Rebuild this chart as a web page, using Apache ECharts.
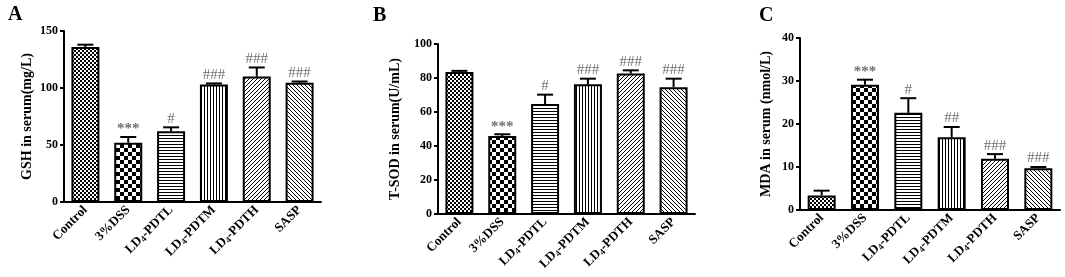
<!DOCTYPE html>
<html>
<head>
<meta charset="utf-8">
<script src="https://cdn.jsdelivr.net/npm/echarts@6/dist/echarts.min.js"></script>
<style>
html,body{margin:0;padding:0;background:#fff;}
#chart{width:1065px;height:277px;}
</style>
</head>
<body>
<div id="chart"></div>
<script>
// ---------- data ----------
const categories = ['Control', '3%DSS', 'LD4-PDTL', 'LD4-PDTM', 'LD4-PDTH', 'SASP'];

const gshMean = [136, 52, 62, 103, 110, 104.5];
const gshErr  = [2, 5, 3.5, 1, 8, 1.2];
const gshSig  = ['', '***', '#', '###', '###', '###'];

const sodMean = [83.6, 45.9, 64.7, 76.3, 82.6, 74.6];
const sodErr  = [0.6, 1, 5.5, 3.3, 1.9, 5];
const sodSig  = ['', '***', '#', '###', '###', '###'];

const mdaMean = [3.4, 29.1, 22.6, 16.9, 11.9, 9.7];
const mdaErr  = [1.1, 1.2, 3.4, 2.4, 1.1, 0.3];
const mdaSig  = ['', '***', '#', '##', '###', '###'];

const panelLetters = ['A', 'B', 'C'];
const yNames = ['GSH in serum(mg/L)', 'T-SOD in serum(U/mL)', 'MDA in serum (nmol/L)'];
const yMax = [150, 100, 40];
const yInterval = [50, 20, 10];

// ---------- patterns ----------
function makeTile(w, h, draw) {
  const c = document.createElement('canvas');
  c.width = w; c.height = h;
  const ctx = c.getContext('2d');
  ctx.fillStyle = '#fff'; ctx.fillRect(0, 0, w, h);
  ctx.fillStyle = '#000'; ctx.strokeStyle = '#000';
  draw(ctx, w, h);
  return { image: c, repeat: 'repeat' };
}
function checker(s) {
  return makeTile(2 * s, 2 * s, (ctx) => { ctx.fillRect(0, 0, s, s); ctx.fillRect(s, s, s, s); });
}
function hLines(p) { return makeTile(p, p, (ctx) => ctx.fillRect(0, 0, p, 1)); }
function vLines(p) { return makeTile(p, p, (ctx) => ctx.fillRect(0, 0, 1, p)); }
function diag(p, forward) {
  return makeTile(p, p, (ctx, w) => {
    ctx.lineWidth = 1;
    ctx.beginPath();
    for (let k = -1; k <= 1; k++) {
      if (forward) { ctx.moveTo(k * w - 1, w + 1); ctx.lineTo(k * w + w + 1, -1); }
      else { ctx.moveTo(k * w - 1, -1); ctx.lineTo(k * w + w + 1, w + 1); }
    }
    ctx.stroke();
  });
}
const fills = [checker(2), checker(4), hLines(3), vLines(3), diag(4, true), diag(4, false)];

// ---------- layout ----------
const grids = [
  { left: 64, top: 31, width: 257, height: 171 },
  { left: 438, top: 44, width: 257, height: 170 },
  { left: 800, top: 38, width: 260, height: 172 }
];
const nameGaps = [30, 36, 27];
const letterPos = [[8, 5], [373, 6], [759, 6]];
const FONT = '"Liberation Serif", "Times New Roman", serif';

const panels = [
  { mean: gshMean, err: gshErr, sig: gshSig },
  { mean: sodMean, err: sodErr, sig: sodSig },
  { mean: mdaMean, err: mdaErr, sig: mdaSig }
];

const xAxes = [], yAxes = [], series = [], graphics = [];
panels.forEach((p, i) => {
  xAxes.push({
    type: 'category', gridIndex: i, data: categories,
    axisLine: { lineStyle: { color: '#000', width: 2 } },
    axisTick: { alignWithLabel: true, length: 4, lineStyle: { color: '#000', width: 2 } },
    axisLabel: {
      rotate: 45, interval: 0, margin: 6, color: '#000',
      fontFamily: FONT, fontWeight: 'bold', fontSize: 13,
      formatter: (v) => v.replace(/^LD4/, 'LD{s|4}'),
      rich: { s: { fontFamily: FONT, fontWeight: 'bold', fontSize: 9, verticalAlign: 'bottom', padding: [6, 0, 0, 0] } }
    }
  });
  yAxes.push({
    type: 'value', gridIndex: i, min: 0, max: yMax[i], interval: yInterval[i],
    name: yNames[i], nameLocation: 'middle', nameGap: nameGaps[i],
    nameTextStyle: { fontFamily: FONT, fontWeight: 'bold', fontSize: 14, color: '#000' },
    axisLine: { show: true, lineStyle: { color: '#000', width: 2 } },
    axisTick: { show: true, length: 4, lineStyle: { color: '#000', width: 2 } },
    splitLine: { show: false },
    axisLabel: { color: '#000', fontFamily: FONT, fontWeight: 'bold', fontSize: 12, margin: 6 }
  });
  series.push({
    type: 'bar', xAxisIndex: i, yAxisIndex: i, barWidth: 28,
    data: p.mean.map((v, k) => ({ value: v, itemStyle: { color: fills[k], borderColor: '#000', borderWidth: 2 } })),
    silent: true
  });
  series.push({
    type: 'custom', xAxisIndex: i, yAxisIndex: i, z: 5, silent: true,
    data: p.mean.map((v, k) => [k, v, p.err[k], p.sig[k]]),
    renderItem: (params, api) => {
      const k = api.value(0), m = api.value(1), e = api.value(2);
      const s = p.sig[k];
      const a = api.coord([k, m]);
      const b = api.coord([k, m + e]);
      const children = [
        { type: 'line', shape: { x1: a[0], y1: a[1], x2: b[0], y2: b[1] }, style: { stroke: '#000', lineWidth: 2 } },
        { type: 'line', shape: { x1: b[0] - 8, y1: b[1], x2: b[0] + 8, y2: b[1] }, style: { stroke: '#000', lineWidth: 2 } }
      ];
      if (s) {
        const star = s.indexOf('*') >= 0;
        children.push({
          type: 'text',
          style: {
            x: b[0], y: b[1] - (star ? 0 : 1), text: s, align: 'center', verticalAlign: 'bottom',
            fill: '#707070', font: (star ? 'bold 15px ' : '15px ') + FONT
          }
        });
      }
      return { type: 'group', children };
    }
  });
  graphics.push({
    type: 'text', left: letterPos[i][0], top: letterPos[i][1],
    style: { text: panelLetters[i], font: 'bold 20px ' + FONT, fill: '#000' }
  });
});

const chart = echarts.init(document.getElementById('chart'), null, { renderer: 'canvas' });
chart.setOption({
  animation: false,
  backgroundColor: '#fff',
  grid: grids.map(g => Object.assign({ containLabel: false }, g)),
  xAxis: xAxes,
  yAxis: yAxes,
  series: series,
  graphic: graphics
});
</script>
</body>
</html>
